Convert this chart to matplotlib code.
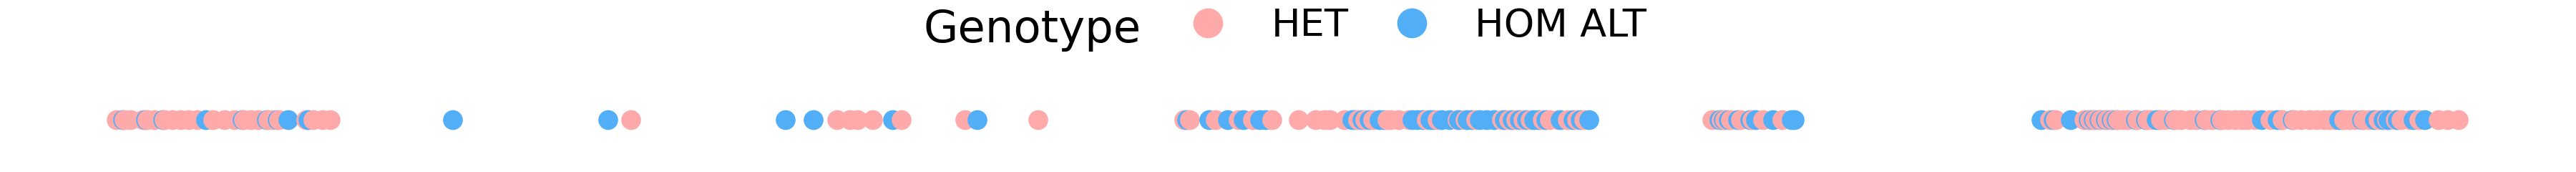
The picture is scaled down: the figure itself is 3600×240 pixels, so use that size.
import numpy as np
import matplotlib
matplotlib.use('Agg')
import matplotlib.pyplot as plt
from matplotlib.lines import Line2D

# Variant positions (arbitrary genomic units)
het_pos = [163, 174, 183, 200, 206, 216, 230, 241, 253, 264, 276, 298, 314, 328, 341, 351, 361,
           375, 381, 390, 428, 438, 451, 462,
           882, 1170, 1188, 1199, 1220, 1260, 1349, 1451,
           1655, 1663, 1699, 1731, 1751, 1778, 1815, 1839, 1851, 1859, 1879,
           1898, 1908, 1919, 1939, 1944, 1955, 1969, 1994, 2009, 2037, 2048, 2063, 2099,
           2109, 2119, 2129, 2139, 2156, 2166, 2178, 2191, 2204, 2214,
           2393, 2406, 2411, 2419, 2433, 2449, 2464, 2491,
           2865, 2873, 2913, 2921, 2928, 2936, 2945, 2953, 2960, 2968, 2974, 2987, 3001, 3006,
           3020, 3026, 3040, 3048, 3061, 3070, 3083, 3092, 3105, 3114, 3124, 3133, 3141, 3151,
           3173, 3190, 3206, 3216, 3228, 3238, 3248, 3256, 3264, 3276, 3284, 3291, 3303, 3311,
           3324, 3336, 3348, 3356, 3368, 3381, 3408, 3421, 3436]
homalt_pos = [172, 204, 228, 288, 339, 373, 388, 403, 431,
              633, 850, 1098, 1137, 1248, 1366,
              1659, 1690, 1716, 1738, 1761, 1769,
              1890, 1894, 1904, 1914, 1928, 1934, 1974, 1981, 1989, 1999, 2004, 2015, 2026,
              2039, 2051, 2057, 2068, 2078, 2088, 2103, 2114, 2124, 2134, 2144, 2151, 2161,
              2181, 2199, 2209, 2221,
              2403, 2409, 2416, 2429, 2446, 2454, 2478, 2504, 2508,
              2853, 2870, 2894, 2919, 2926, 2934, 2943, 2951, 2958, 2985, 2999, 3014, 3018,
              3038, 3081, 3103, 3161, 3183, 3188, 3204, 3269, 3274, 3301, 3319, 3331, 3338,
              3351, 3373, 3389]

genotypes = ['HET', 'HOM ALT']
colors = {'HET': '#FFAAAA', 'HOM ALT': '#52AEF7'}

pos = np.array(het_pos + homalt_pos, dtype=float)
gt = np.array(['HET'] * len(het_pos) + ['HOM ALT'] * len(homalt_pos))
order = np.argsort(pos, kind='stable')
pos, gt = pos[order], gt[order]

fig = plt.figure(figsize=(12, 0.8), dpi=300)
ax = fig.add_axes([0, 0, 1, 1])
ax.scatter(pos, np.zeros_like(pos), c=[colors[g] for g in gt], s=44, linewidths=0)
ax.set_xlim(0, 3600)
ax.set_ylim(-0.302, 0.698)
ax.axis('off')

fig.text(1291 / 3600, 1 - 59 / 240, 'Genotype', fontsize=15, ha='left', va='baseline')
handles = [Line2D([], [], ls='none', marker='o', ms=10, mew=0, mfc=colors[g]) for g in genotypes]
fig.legend(handles, genotypes, loc='center left', bbox_to_anchor=(1661 / 3600, 1 - 36 / 240),
           ncol=2, frameon=False, fontsize=13, handlelength=1.0, handletextpad=1.13,
           columnspacing=1.13, borderpad=0, borderaxespad=0)
fig.savefig('out.png', dpi=300)
